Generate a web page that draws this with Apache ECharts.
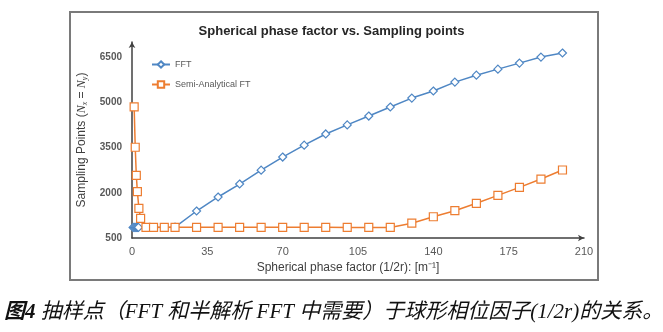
<!DOCTYPE html>
<html><head><meta charset="utf-8">
<script src="https://cdn.jsdelivr.net/npm/echarts@6/dist/echarts.min.js"></script>
<style>html,body{margin:0;padding:0;background:#fff}#c{width:663px;height:332px}</style>
</head><body><div id="c"></div>
<script>
// Data
const titleText = 'Spherical phase factor vs. Sampling points';
const fftX = [0.5, 1, 1.5, 2, 2.5, 3, 20, 30, 40, 50, 60, 70, 80, 90, 100, 110, 120, 130, 140, 150, 160, 170, 180, 190, 200];
const fftY = [850, 850, 850, 850, 850, 850, 860, 1395, 1860, 2290, 2750, 3185, 3580, 3950, 4250, 4545, 4845, 5140, 5375, 5670, 5900, 6100, 6300, 6500, 6635];
const semiX = [1, 1.5, 2, 2.5, 3.2, 4, 6.5, 10, 15, 20, 30, 40, 50, 60, 70, 80, 90, 100, 110, 120, 130, 140, 150, 160, 170, 180, 190, 200];
const semiY = [4850, 3510, 2580, 2035, 1485, 1150, 855, 855, 855, 855, 855, 855, 855, 855, 855, 855, 855, 850, 850, 850, 990, 1205, 1405, 1650, 1915, 2180, 2455, 2755];
const xTicks = {min: 0, max: 210, interval: 35};
const yTicks = {min: 500, max: 7000, interval: 1500};
const captionHead = '图4';
const captionBody = ' 抽样点（FFT 和半解析 FFT 中需要）于球形相位因子(1/2r)的关系。';

const blue = '#4f87c4', orange = '#ed7d31';
const chart = echarts.init(document.getElementById('c'), null, {renderer: 'canvas'});
const pair = (xs, ys) => xs.map((x, i) => [x, ys[i]]);
const capFont = '"Liberation Serif", "Noto Sans CJK SC", serif';
chart.setOption({
  backgroundColor: '#fff',
  animation: false,
  textStyle: {fontFamily: 'Liberation Sans, Arial, sans-serif'},
  title: {text: titleText, left: 'center', top: 25, padding: 0,
    textStyle: {fontSize: 13, fontWeight: 'bold', color: '#262626', fontFamily: 'Liberation Sans, Arial, sans-serif'}},
  legend: {orient: 'vertical', left: 146, top: 55, itemGap: 11, itemWidth: 18, itemHeight: 8,
    textStyle: {fontSize: 9, color: '#595959'}, data: ['FFT', 'Semi-Analytical FT']},
  grid: {left: 132, right: 79, top: 42, bottom: 94, containLabel: false},
  xAxis: {type: 'value', min: xTicks.min, max: xTicks.max, interval: xTicks.interval,
    name: 'Spherical phase factor (1/2r): [m⁻¹]', nameLocation: 'middle', nameGap: 24,
    nameTextStyle: {fontSize: 12, color: '#404040', padding: [0, 20, 0, 0]},
    axisLine: {lineStyle: {color: '#404040', width: 1.5}, symbol: ['none', 'arrow'], symbolSize: [5, 6]},
    axisTick: {show: false}, splitLine: {show: false},
    axisLabel: {fontSize: 11, color: '#595959', margin: 8}},
  yAxis: {type: 'value', min: yTicks.min, max: yTicks.max, interval: yTicks.interval,
    name: '{a|Sampling Points (}{i|N}{s|x}{a| = }{i|N}{s|y}{a|)}', nameLocation: 'middle', nameGap: 34,
    nameTextStyle: {rich: {
      a: {fontSize: 12, color: '#404040', fontFamily: 'Liberation Sans, Arial, sans-serif'},
      i: {fontSize: 12, color: '#404040', fontStyle: 'italic', fontFamily: 'Liberation Serif, serif'},
      s: {fontSize: 8, color: '#404040', fontStyle: 'italic', fontFamily: 'Liberation Serif, serif', padding: [6, 0, 0, 0]}}},
    axisLine: {show: true, lineStyle: {color: '#404040', width: 1.5}, symbol: ['none', 'arrow'], symbolSize: [5, 6]},
    axisTick: {show: false}, splitLine: {show: false},
    axisLabel: {fontSize: 10, fontWeight: 'bold', color: '#595959', margin: 10, showMaxLabel: false,
      formatter: v => String(v)}},
  series: [
    {name: 'FFT', type: 'line', data: pair(fftX, fftY), symbol: 'diamond', symbolSize: 8,
      lineStyle: {color: blue, width: 1.5}, itemStyle: {color: '#fff', borderColor: blue, borderWidth: 1.2}, z: 2},
    {name: 'Semi-Analytical FT', type: 'line', data: pair(semiX, semiY), symbol: 'rect', symbolSize: 8,
      lineStyle: {color: orange, width: 1.5}, itemStyle: {color: '#fff', borderColor: orange, borderWidth: 1.2}, z: 3}
  ],
  graphic: [
    {type: 'rect', shape: {x: 70, y: 12, width: 528, height: 268}, style: {fill: 'none', stroke: '#7a7a7a', lineWidth: 2}, silent: true, z: -1},
    {type: 'text', left: 4, top: 302, style: {text: '{h|' + captionHead + '}{b|' + captionBody + '}',
      rich: {
        h: {fontSize: 21, fontStyle: 'italic', fontWeight: 'bold', fontFamily: capFont, fill: '#111'},
        b: {fontSize: 21, fontStyle: 'italic', fontFamily: capFont, fill: '#111'}
      }}}
  ]
});
</script></body></html>
